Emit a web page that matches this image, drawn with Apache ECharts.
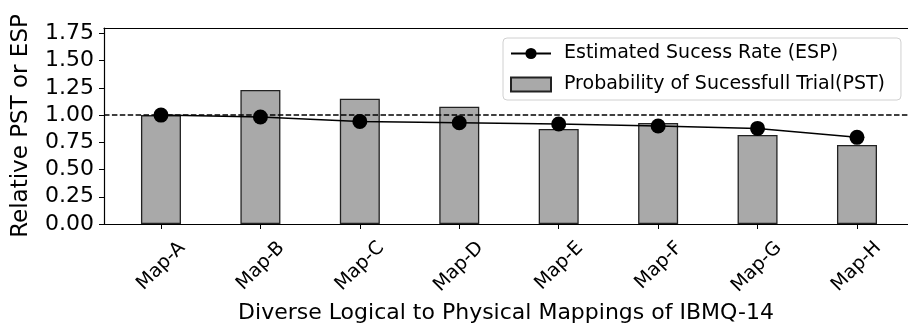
<!DOCTYPE html>
<html><head><meta charset="utf-8">
<script src="https://cdn.jsdelivr.net/npm/echarts@6/dist/echarts.min.js"></script>
<style>html,body{margin:0;padding:0;background:#fff}#c{width:908px;height:329px}</style>
</head><body><div id="c"></div>
<script>
const categories = ['Map-A','Map-B','Map-C','Map-D','Map-E','Map-F','Map-G','Map-H'];
const pstValues = [1.00, 1.23, 1.15, 1.077, 0.872, 0.927, 0.817, 0.726];
const espValues = [1.00, 0.982, 0.942, 0.930, 0.918, 0.900, 0.878, 0.796];
const yTicks = [0, 0.25, 0.5, 0.75, 1.0, 1.25, 1.5, 1.75];
const xTicks = categories.map((c, i) => i);
const referenceLevel = 1.0;

const FONT = 'DejaVu Sans';
const X_MIN = -0.573, X_MAX = 7.513;
const LABEL_SHIFT = 0.213; // rotated labels centred under their ticks (matplotlib ha='center')
const chart = echarts.init(document.getElementById('c'), null, {renderer: 'canvas'});
chart.setOption({
  animation: false,
  textStyle: {fontFamily: FONT, color: '#000'},
  grid: {left: 104, top: 28, right: 0, bottom: 104, containLabel: false},
  legend: {
    orient: 'vertical', left: 503, top: 38,
    itemWidth: 40, itemHeight: 14, itemGap: 12,
    padding: [6, 16, 6, 7],
    borderColor: '#d0d0d0', borderWidth: 1, borderRadius: 4,
    backgroundColor: 'rgba(255,255,255,0.8)',
    textStyle: {fontFamily: FONT, fontSize: 19, color: '#000', padding: [0, 0, 0, 8]},
    data: [
      {name: 'Estimated Sucess Rate (ESP)'},
      {name: 'Probability of Sucessfull Trial(PST)', icon: 'rect'}
    ]
  },
  xAxis: [{
    type: 'value', min: X_MIN, max: X_MAX,
    splitLine: {show: false},
    axisLine: {show: true, onZero: false, lineStyle: {color: '#000', width: 1.2}},
    axisTick: {show: true, customValues: xTicks, length: 5, lineStyle: {color: '#000'}},
    axisLabel: {show: false},
    name: 'Diverse Logical to Physical Mappings of IBMQ-14',
    nameLocation: 'middle', nameGap: 78,
    nameTextStyle: {fontSize: 22, color: '#000', fontFamily: FONT}
  }, {
    type: 'value', position: 'top', min: X_MIN, max: X_MAX,
    splitLine: {show: false},
    axisLine: {show: true, onZero: false, lineStyle: {color: '#000', width: 1.2}},
    axisTick: {show: false}, axisLabel: {show: false}
  }, {
    type: 'value', position: 'bottom', min: X_MIN - LABEL_SHIFT, max: X_MAX - LABEL_SHIFT,
    splitLine: {show: false},
    axisLine: {show: false, onZero: false}, axisTick: {show: false},
    axisLabel: {
      customValues: xTicks, rotate: 45, margin: 21,
      fontSize: 19, color: '#000', fontFamily: FONT,
      formatter: v => categories[Math.round(v)] || ''
    }
  }],
  yAxis: {
    type: 'value', min: 0, max: 1.8,
    splitLine: {show: false},
    axisLine: {show: true, onZero: false, lineStyle: {color: '#000', width: 1.2}},
    axisTick: {show: true, customValues: yTicks, length: 5, lineStyle: {color: '#000'}},
    axisLabel: {
      customValues: yTicks, margin: 10, fontSize: 22, color: '#000', fontFamily: FONT,
      formatter: v => v.toFixed(2)
    },
    name: 'Relative PST or ESP', nameLocation: 'middle', nameGap: 71,
    nameTextStyle: {fontSize: 23, color: '#000', fontFamily: FONT}
  },
  series: [{
    name: 'Probability of Sucessfull Trial(PST)',
    type: 'bar', barWidth: 40, xAxisIndex: 0,
    data: pstValues.map((v, i) => [i, v]),
    itemStyle: {color: '#a9a9a9', borderColor: '#222', borderWidth: 1.3},
    markLine: {
      silent: true, symbol: 'none', label: {show: false},
      lineStyle: {color: '#000', type: [5.5, 2.4], width: 1.5},
      data: [{yAxis: referenceLevel}]
    },
    z: 2
  }, {
    name: 'Estimated Sucess Rate (ESP)',
    type: 'line', xAxisIndex: 0,
    data: espValues.map((v, i) => [i, v]),
    symbol: 'circle', symbolSize: 15,
    lineStyle: {color: '#000', width: 1.5},
    itemStyle: {color: '#000'},
    z: 5
  }]
});
</script></body></html>
